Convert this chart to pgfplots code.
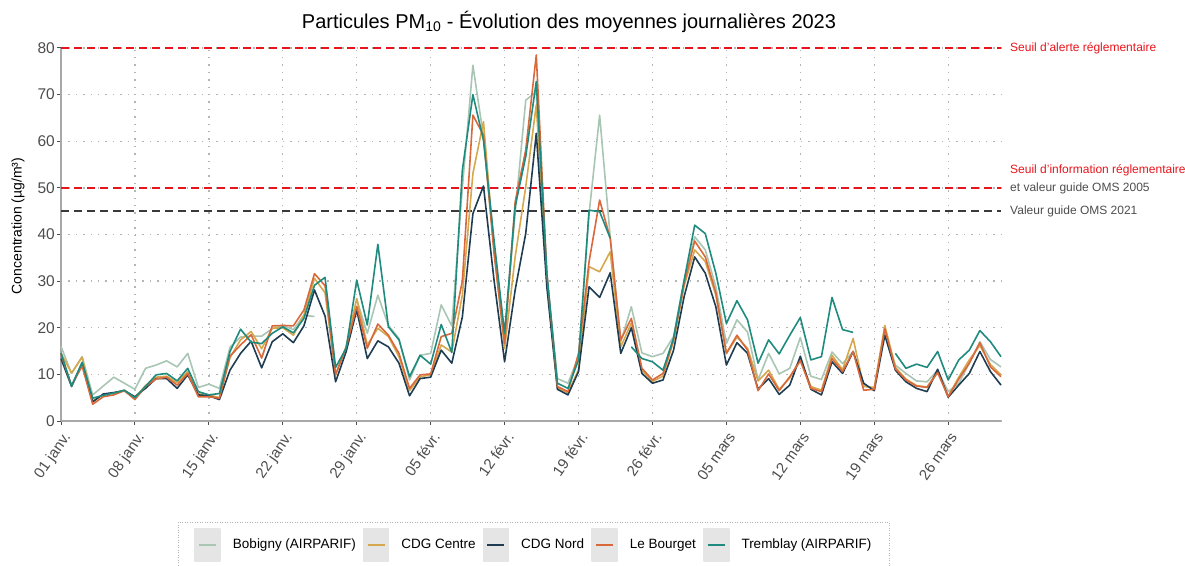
\documentclass[border=0pt]{standalone}
\usepackage{pgfplots}
\pgfplotsset{compat=1.18}
\usepackage{pgfplotstable}
\usepackage{fontspec}
\setmainfont{Liberation Sans}
\definecolor{cB}{HTML}{A9C6B4}
\definecolor{cY}{HTML}{D5A84E}
\definecolor{cN}{HTML}{1F3D52}
\definecolor{cO}{HTML}{D9683A}
\definecolor{cT}{HTML}{1F8B7F}
\definecolor{labgrey}{HTML}{4D4D4D}
\definecolor{gridgrey}{HTML}{B4B4B4}
\definecolor{axgrey}{HTML}{A8A8A8}
\definecolor{keybg}{HTML}{E5E5E5}
\definecolor{seuilred}{HTML}{E8141B}
\definecolor{omsgrey}{HTML}{3A3A3A}
\pgfplotstableread{
d B Y N O T
0 16.0 14.5 13.4 14.3 14.6
1 10.2 10.3 7.4 7.6 7.5
2 13.8 13.7 12.4 11.8 12.6
3 5.6 4.3 4.1 3.6 4.9
4 7.5 5.6 5.8 5.2 5.5
5 9.4 6.0 6.1 5.6 6.0
6 8.1 6.6 6.5 6.5 6.6
7 6.8 5.0 5.2 4.6 5.0
8 11.3 7.6 7.0 7.4 7.4
9 12.0 9.4 9.1 9.0 9.9
10 12.9 9.6 9.1 9.4 10.2
11 11.6 8.2 7.0 7.7 8.6
12 14.5 10.6 9.9 10.2 11.3
13 7.2 5.8 5.6 5.2 6.3
14 7.9 5.6 5.4 5.2 5.6
15 7.0 5.0 4.6 4.9 5.9
16 15.8 13.6 10.9 13.9 14.9
17 18.0 17.4 14.5 16.3 19.7
18 18.2 19.2 17.1 18.5 16.9
19 18.2 15.5 11.4 13.5 16.6
20 19.8 19.9 17.0 20.4 18.8
21 20.5 20.0 18.7 20.5 20.2
22 19.6 18.4 16.8 20.4 18.9
23 22.7 22.7 20.4 23.8 22.0
24 22.4 30.6 28.1 31.6 29.1
25 nan 27.5 22.5 29.0 30.8
26 nan 9.8 8.4 10.0 11.5
27 nan 16.0 14.9 15.8 15.6
28 26.0 26.3 23.8 24.6 30.2
29 18.8 16.3 13.4 15.6 20.6
30 27.0 19.9 17.2 20.8 37.9
31 20.5 18.1 15.9 18.4 20.2
32 17.7 13.8 12.4 14.5 17.4
33 8.8 6.5 5.4 7.0 9.5
34 14.1 9.5 9.1 9.9 14.1
35 14.5 9.9 9.4 10.1 12.2
36 24.9 16.3 15.2 18.1 20.7
37 20.4 14.8 12.4 18.8 14.7
38 50.0 27.0 22.3 30.0 53.8
39 76.3 53.1 44.5 65.6 70.0
40 61.0 64.2 50.4 61.3 60.2
41 37.0 37.0 30.2 36.0 38.8
42 18.8 15.5 12.7 16.6 18.8
43 44.5 35.2 28.1 47.0 46.0
44 68.8 50.2 40.2 58.1 56.7
45 70.6 67.8 61.7 78.5 72.8
46 31.0 30.0 28.8 31.7 31.7
47 9.1 7.1 6.8 7.4 8.1
48 8.1 6.0 5.6 6.3 7.0
49 13.8 11.0 10.6 14.5 13.1
50 44.5 33.1 28.8 34.2 45.2
51 65.6 32.0 26.5 47.4 44.9
52 39.5 36.3 31.8 39.2 39.2
53 17.0 15.9 14.5 17.4 nan
54 24.5 21.0 20.0 22.0 15.9
55 14.6 10.8 10.2 11.3 13.4
56 13.8 8.5 8.1 8.8 12.7
57 14.5 9.6 8.8 10.2 10.9
58 18.1 17.2 15.2 17.5 17.8
59 30.2 29.0 26.7 29.5 30.2
60 39.5 36.7 35.2 38.6 42.0
61 36.7 34.2 31.7 35.2 40.2
62 28.8 27.0 24.5 27.5 31.7
63 16.6 14.5 12.0 14.5 20.9
64 21.7 18.0 16.8 18.4 25.8
65 19.1 15.6 14.5 15.2 21.7
66 8.8 8.6 6.8 6.5 12.4
67 14.5 10.9 9.1 10.1 17.4
68 10.1 6.8 5.7 6.5 14.4
69 11.3 9.2 7.7 9.5 18.4
70 17.9 13.4 13.9 12.9 22.2
71 9.6 7.4 6.8 7.0 13.1
72 8.9 6.6 5.6 6.3 13.8
73 14.8 14.1 12.7 13.4 26.5
74 12.3 11.0 10.2 10.6 19.6
75 14.9 17.7 14.9 14.9 19.0
76 7.6 7.4 8.1 6.6 nan
77 7.0 7.2 6.5 6.8 nan
78 19.1 20.5 18.4 19.8 nan
79 12.0 11.5 10.9 11.2 14.5
80 10.2 9.0 8.4 8.8 11.3
81 8.6 7.6 7.0 7.5 12.2
82 8.4 7.3 6.3 7.2 11.5
83 10.9 10.6 11.1 10.4 14.9
84 6.3 5.3 5.1 5.2 8.8
85 8.1 9.4 7.7 9.0 13.1
86 12.4 13.1 10.2 12.4 15.2
87 17.0 16.2 14.9 16.8 19.4
88 13.2 12.1 10.6 11.6 17.0
89 11.6 9.9 7.7 9.5 13.8
}\data
\begin{document}
\begin{tikzpicture}[x=1pt,y=1pt]
\useasboundingbox (0,0) rectangle (1185,565);
\begin{axis}[
  at={(61pt,144pt)}, anchor=south west,
  width=940pt, height=373pt, scale only axis,
  xmin=0, xmax=89, ymin=0, ymax=80,
  clip=false,
  unbounded coords=jump,
  axis x line*=bottom, axis y line*=left,
  axis line style={draw=axgrey, line width=2pt},
  tick align=outside,
  major tick length=4pt,
  tick style={draw=labgrey, line width=1pt},
  xtick={0,7,...,84},
  xticklabels={01 janv.,08 janv.,15 janv.,22 janv.,29 janv.,05 févr.,12 févr.,19 févr.,26 févr.,05 mars,12 mars,19 mars,26 mars},
  x tick label style={rotate=55, anchor=north east, font=\fontsize{15}{15}\selectfont, text=labgrey, inner sep=1pt, yshift=-3pt, xshift=-3pt},
  ytick={0,10,...,80},
  y tick label style={font=\fontsize{15.5}{15.5}\selectfont, text=labgrey, inner sep=2pt},
  /pgf/number format/assume math mode=true,
  grid=major,
  major grid style={draw=gridgrey, dash pattern=on 1.4pt off 6pt, line width=1.3pt},
  every axis plot/.append style={line width=1.6pt, line join=round},
  legend columns=5,
  legend style={at={(0.503,-0.2708)}, anchor=north, draw=gridgrey, dash pattern=on 1pt off 1.5pt, line width=0.6pt,
    font=\fontsize{13.5}{13.5}\selectfont, inner xsep=16pt, inner ysep=6pt,
    /tikz/every odd column/.append style={column sep=10pt},
    /tikz/every even column/.append style={column sep=5pt},
    nodes={inner sep=2pt, text=black, text height=10pt, text depth=3pt}},
  legend image code/.code={\fill[keybg] (0pt,-16pt) rectangle (25pt,16pt);
     \draw[#1, solid, line width=1.6pt] (4pt,0pt) -- (21pt,0pt);},
]
\addplot[seuilred, line width=1.6pt, dash pattern=on 8pt off 5pt, forget plot] coordinates {(0,80) (89,80)};
\addplot[seuilred, line width=1.6pt, dash pattern=on 8pt off 5pt, forget plot] coordinates {(0,50) (89,50)};
\addplot[omsgrey, line width=1.6pt, dash pattern=on 8pt off 5pt, forget plot] coordinates {(0,45) (89,45)};
\addplot[cB] table[x=d, y=B] {\data};
\addlegendentry{Bobigny (AIRPARIF)}
\addplot[cY] table[x=d, y=Y] {\data};
\addlegendentry{CDG Centre}
\addplot[cN] table[x=d, y=N] {\data};
\addlegendentry{CDG Nord}
\addplot[cO] table[x=d, y=O] {\data};
\addlegendentry{Le Bourget}
\addplot[cT] table[x=d, y=T] {\data};
\addlegendentry{Tremblay (AIRPARIF)}
\end{axis}
\node[font=\fontsize{20}{20}\selectfont, anchor=center] at (569,543) {Particules PM\textsubscript{10} - Évolution des moyennes journalières 2023};
\node[font=\fontsize{14}{14}\selectfont, rotate=90, anchor=center] at (18,339) {Concentration (µg/m³)};
\begin{scope}[every node/.style={anchor=west, font=\fontsize{12}{12}\selectfont, inner sep=0pt}]
\node[text=seuilred] at (1010,517) {Seuil d'alerte réglementaire};
\node[text=seuilred] at (1010,395) {Seuil d'information réglementaire};
\node[text=labgrey] at (1010,377) {et valeur guide OMS 2005};
\node[text=labgrey] at (1010,354) {Valeur guide OMS 2021};
\end{scope}
\end{tikzpicture}
\end{document}
